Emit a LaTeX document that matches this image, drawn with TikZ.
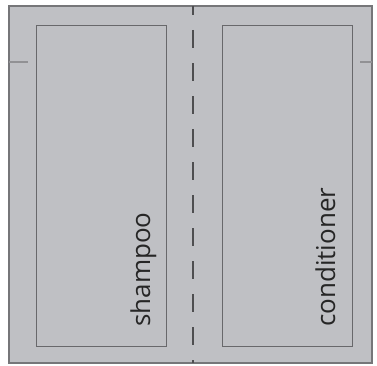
\documentclass[tikz,border=0pt]{standalone}
\usepackage{fontspec}
\setmainfont{Open Sans}
\usetikzlibrary{positioning}

\definecolor{sachet}{RGB}{191,192,196}
\definecolor{rim}{RGB}{118,118,121}
\definecolor{panelrim}{RGB}{104,104,107}
\definecolor{perf}{RGB}{78,78,80}

\begin{document}
\begin{tikzpicture}[x=1pt,y=1pt]

\useasboundingbox (0,0) rectangle (377,365);

\def\xmin{9}
\def\xmax{372}
\def\ymin{2}
\def\ymax{359}

% sachet
\draw[fill=sachet,draw=rim,line width=1.6pt] (\xmin,\ymin) rectangle (\xmax,\ymax);

% notches
\draw[rim!80!white,line width=1pt] (\xmin,303) -- (28,303);
\draw[rim!80!white,line width=1pt] (360,303) -- (\xmax,303);

% panels
\draw[panelrim,line width=0.9pt] (36,19) rectangle (166,340);
\draw[panelrim,line width=0.9pt] (222,19) rectangle (352,340);

% perforation
\draw[perf,line width=2pt,dash pattern=on 18pt off 15pt,dash phase=9pt] (193,\ymax) -- (193,\ymin);

% labels
\node[rotate=90,anchor=base west,inner sep=0pt,font=\fontsize{26}{30}\selectfont,text=black!85] (shampoo) at (150,38) {shampoo};
\node[rotate=90,anchor=base west,inner sep=0pt,font=\fontsize{26}{30}\selectfont,text=black!85] (conditioner) at (335,38) {conditioner};

\end{tikzpicture}
\end{document}
